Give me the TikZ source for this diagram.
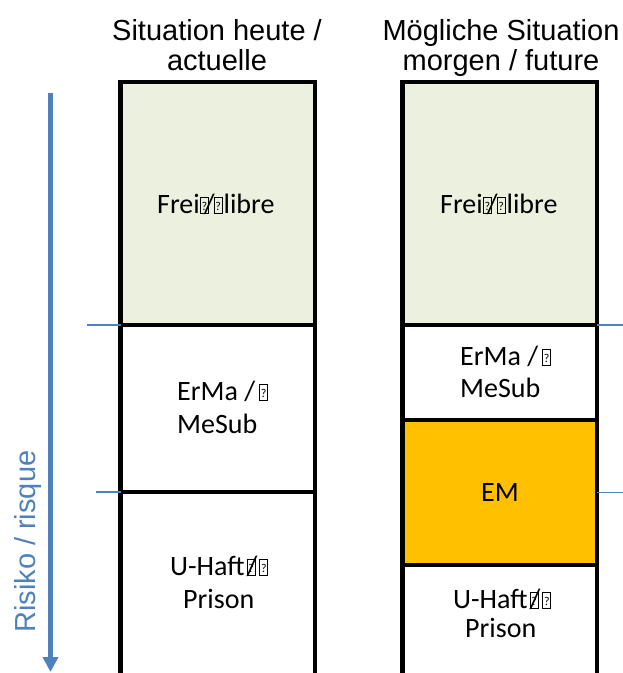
\documentclass[tikz,border=0pt]{standalone}
\usepackage{fontspec}
\setmainfont{Liberation Sans}
\newfontfamily\cellfont{Carlito}
\usetikzlibrary{arrows.meta}
\definecolor{riskblue}{HTML}{4F81BD}
\definecolor{freegreen}{HTML}{EBF1DE}
\definecolor{emorange}{HTML}{FFC000}
% placeholder box for a character the font does not have
\newcommand\tofu{{\setlength\fboxsep{0pt}\setlength\fboxrule{1pt}%
  \fbox{\makebox[7pt]{\rule{0pt}{15pt}\raisebox{3pt}{\fontsize{12}{12}\selectfont ?}}}}}
\begin{document}
\begin{tikzpicture}[x=1pt,y=-1pt,
  cell/.style={draw=black, line width=4.5pt, minimum width=194.5pt,
    inner sep=0pt, outer sep=0pt},
  head/.style={font=\fontsize{29}{34}\selectfont, inner sep=0pt, anchor=base},
  celltext/.style={font=\cellfont\fontsize{28}{33}\selectfont, inner sep=0pt,
    anchor=base west},
  level/.style={draw=riskblue, line width=1.5pt},
  riskarrow/.style={draw=riskblue, line width=5pt,
    -{Triangle[width=15pt,length=15pt]}}]
\useasboundingbox (0,0) rectangle (623,673);
\clip (0,0) rectangle (623,673);

% column headings
\node[head] (h1a) at (217,40) {Situation heute /};
\node[head] (h1b) at (217,70) {actuelle};
\node[head] (h2a) at (501,40) {Mögliche Situation};
\node[head] (h2b) at (501,70) {morgen / future};

% risk axis
\coordinate (rtop) at (50.5,93);
\coordinate (rbot) at (50.5,672);
\draw[riskarrow] (rtop) -- (rbot);
\node[rotate=90, anchor=base west, inner sep=0pt, text=riskblue,
  font=\fontsize{29}{34}\selectfont] (risk) at (35,633) {Risiko / risque};

% today's column
\node[cell, fill=freegreen, minimum height=243pt] (lfrei) at (217.75,203.5) {};
\node[cell, fill=white, minimum height=167pt] (lerma) at (217.75,408.5) {};
\node[cell, fill=white, minimum height=198pt] (lhaft) at (217.75,591) {};

% tomorrow's column
\node[cell, fill=freegreen, minimum height=243pt] (rfrei) at (499.75,203.5) {};
\node[cell, fill=white, minimum height=95pt] (rerma) at (499.75,372.5) {};
\node[cell, fill=emorange, minimum height=145pt] (rem) at (499.75,492.5) {};
\node[cell, fill=white, minimum height=125pt] (rhaft) at (499.75,627.5) {};

% risk levels
\coordinate (lv1l) at (87,325);
\coordinate (lv1r) at (623,325);
\coordinate (lv2l) at (96,492);
\coordinate (lv2r) at (623,492.5);
\draw[level] (lv1l) -- (lfrei.south west);
\draw[level] (rfrei.south east) -- (lv1r);
\draw[level] (lv2l) -- (lerma.south west);
\draw[level] (rem.east) -- (lv2r);

% cell labels
\node[celltext] (tlfrei) at (157,213) {Frei\tofu\kern-5pt/\kern-1pt\tofu\kern1pt libre};
\node[celltext] (tlerma1) at (177,400) {ErMa /\kern4pt\tofu};
\node[celltext] (tlerma2) at (177,433) {MeSub};
\node[celltext] (tlhaft1) at (170,575) {U-Haft\kern2pt\tofu\kern-9pt/\kern2pt\tofu};
\node[celltext] (tlhaft2) at (183,608) {Prison};

\node[celltext] (trfrei) at (440,213) {Frei\tofu\kern-5pt/\kern-1pt\tofu\kern1pt libre};
\node[celltext] (trerma1) at (460,365) {ErMa /\kern4pt\tofu};
\node[celltext] (trerma2) at (460,397) {MeSub};
\node[celltext, anchor=base] (trem) at (500,501) {EM};
\node[celltext] (trhaft1) at (453,608) {U-Haft\kern2pt\tofu\kern-9pt/\kern2pt\tofu};
\node[celltext] (trhaft2) at (465,637) {Prison};
\end{tikzpicture}
\end{document}
